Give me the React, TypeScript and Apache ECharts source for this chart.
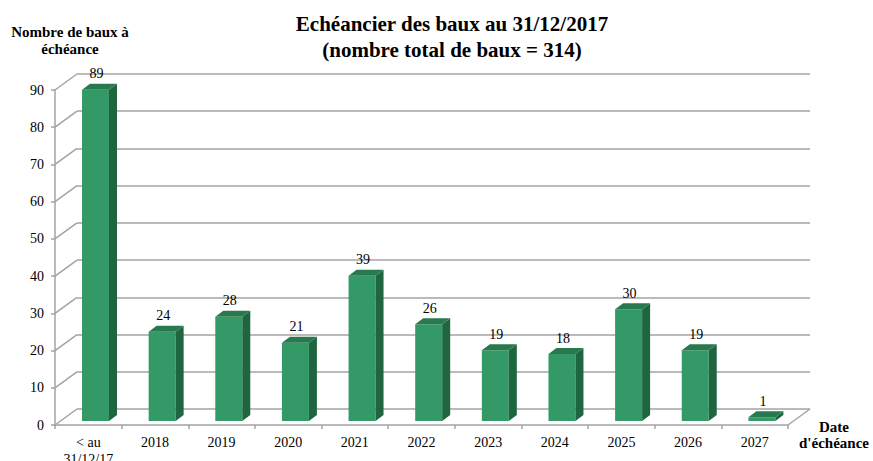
import React, { useEffect, useRef } from "react";
import * as echarts from "echarts";

const categories = ["< au\n31/12/17", "2018", "2019", "2020", "2021", "2022", "2023", "2024", "2025", "2026", "2027"];
const values = [89, 24, 28, 21, 39, 26, 19, 18, 30, 19, 1];
const yTicks = [0, 10, 20, 30, 40, 50, 60, 70, 80, 90];

const FONT = "Liberation Serif";
const GRID_COLOR = "#a3a3a3";
const DX = 22;
const DY = -16;

export default function App() {
  const ref = useRef<HTMLDivElement>(null);
  useEffect(() => {
    const chart = echarts.init(ref.current!, null, { renderer: "svg" });
    const option: any = {
      animation: false,
      backgroundColor: "#ffffff",
      textStyle: { fontFamily: FONT },
      title: {
        text: "Echéancier des baux au 31/12/2017\n(nombre total de baux = 314)",
        left: 447,
        top: 6,
        textAlign: "center",
        textStyle: { fontFamily: FONT, fontWeight: "bold", fontSize: 21, lineHeight: 26, color: "#000" },
      },
      graphic: [
        {
          type: "text",
          x: 70,
          y: 23.5,
          style: {
            text: "Nombre de baux à\néchéance",
            fontFamily: FONT,
            fontWeight: "bold",
            fontSize: 15,
            fill: "#000",
            textAlign: "center",
            lineHeight: 17,
          },
        },
        {
          type: "text",
          x: 834,
          y: 419,
          style: {
            text: "Date\nd'échéance",
            fontFamily: FONT,
            fontWeight: "bold",
            fontSize: 15,
            fill: "#000",
            textAlign: "center",
            lineHeight: 16,
          },
        },
      ],
      grid: [
        { left: 55, right: 85, top: 90, bottom: 36, outerBoundsMode: "none", containLabel: false },
        { left: 77, right: 63, top: 74, bottom: 52, outerBoundsMode: "none", containLabel: false },
      ],
      xAxis: [
        {
          type: "category",
          gridIndex: 0,
          data: categories,
          axisLine: { show: true, lineStyle: { color: GRID_COLOR, width: 1.5 } },
          axisTick: { show: true, length: 4, lineStyle: { color: GRID_COLOR, width: 1.5 } },
          axisLabel: { fontFamily: FONT, fontSize: 14, color: "#000", margin: 9, lineHeight: 17, interval: 0 },
        },
        { type: "category", gridIndex: 1, data: categories, show: false },
      ],
      yAxis: [
        {
          type: "value",
          gridIndex: 0,
          min: 0,
          max: 90,
          interval: 10,
          axisLine: { show: true, lineStyle: { color: GRID_COLOR, width: 1.5 } },
          axisTick: { show: true, length: 4, lineStyle: { color: GRID_COLOR, width: 1.5 } },
          axisLabel: { fontFamily: FONT, fontSize: 14, color: "#000", margin: 11 },
          splitLine: { show: false },
        },
        {
          type: "value",
          gridIndex: 1,
          min: 0,
          max: 90,
          interval: 10,
          axisLine: { show: false },
          axisTick: { show: false },
          axisLabel: { show: false },
          splitLine: { show: true, lineStyle: { color: GRID_COLOR, width: 1.5 } },
        },
      ],
      series: [
        {
          type: "custom",
          xAxisIndex: 0,
          yAxisIndex: 0,
          data: yTicks.map((v) => [0, v]),
          silent: true,
          z: 1,
          renderItem: (params: any, api: any) => {
            const v = api.value(1);
            const y = api.coord([0, v])[1];
            const cs = params.coordSys;
            const children: any[] = [
              {
                type: "line",
                shape: { x1: cs.x, y1: y, x2: cs.x + DX, y2: y + DY },
                style: { stroke: GRID_COLOR, lineWidth: 1.5 },
              },
            ];
            if (v === 0) {
              children.push({
                type: "line",
                shape: { x1: cs.x + cs.width, y1: y, x2: cs.x + cs.width + DX, y2: y + DY },
                style: { stroke: GRID_COLOR, lineWidth: 1.5 },
              });
            }
            return { type: "group", children };
          },
        },
        {
          type: "custom",
          xAxisIndex: 0,
          yAxisIndex: 0,
          data: values.map((v, i) => [i, v]),
          z: 3,
          renderItem: (params: any, api: any) => {
            const idx = api.value(0);
            const v = api.value(1);
            const top = api.coord([idx, v]);
            const base = api.coord([idx, 0]);
            const band = api.size([1, 0])[0];
            const w = band * 0.405;
            const cx = top[0] + band * 0.108;
            const x0 = cx - w / 2;
            const x1 = cx + w / 2;
            const yb = base[1] - 4;
            const yt = top[1] - 4;
            const dx = 8;
            const dy = -6;
            return {
              type: "group",
              children: [
                {
                  type: "polygon",
                  shape: { points: [[x0, yb], [x1, yb], [x1, yt], [x0, yt]] },
                  style: { fill: "#339966" },
                },
                {
                  type: "polygon",
                  shape: { points: [[x1, yb], [x1 + dx, yb + dy], [x1 + dx, yt + dy], [x1, yt]] },
                  style: { fill: "#1f6640" },
                },
                {
                  type: "polygon",
                  shape: { points: [[x0, yt], [x1, yt], [x1 + dx, yt + dy], [x0 + dx, yt + dy]] },
                  style: { fill: "#28794e" },
                },
                {
                  type: "text",
                  x: cx + 1,
                  y: yt + dy - 3,
                  style: {
                    text: String(v),
                    fontFamily: FONT,
                    fontSize: 14,
                    fill: "#000",
                    textAlign: "center",
                    textVerticalAlign: "bottom",
                  },
                },
              ],
            };
          },
        },
      ],
    };
    chart.setOption(option);
    return () => chart.dispose();
  }, []);
  return (
    <div
      ref={ref}
      style={{ position: "fixed", left: 0, top: 0, width: 873, height: 461 }}
    />
  );
}
